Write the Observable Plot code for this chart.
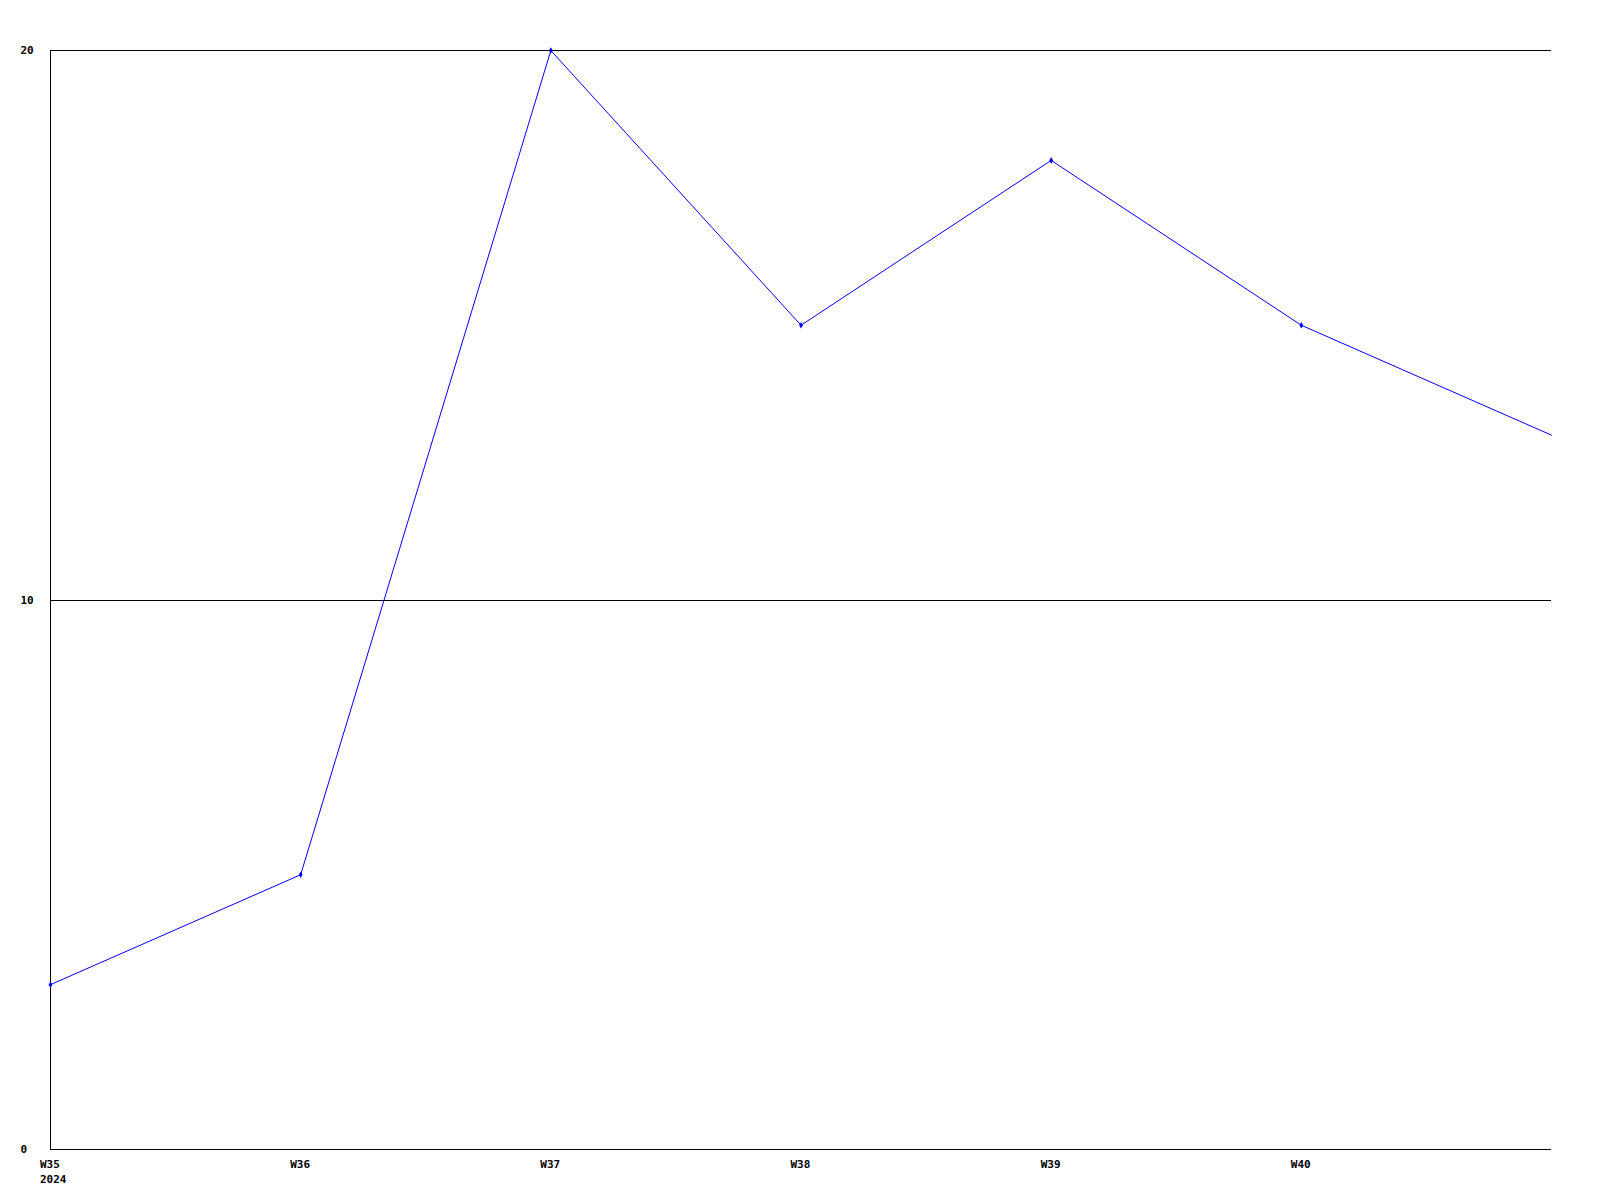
<!DOCTYPE html>
<html>
<head>
<meta charset="utf-8">
<script src="https://cdn.jsdelivr.net/npm/d3@7"></script>
<script src="https://cdn.jsdelivr.net/npm/@observablehq/plot@0.6"></script>
<style>
  html, body { margin: 0; padding: 0; background: #fff; }
  #chart svg { display: block; }
</style>
</head>
<body>
<div id="chart"></div>
<script>
// Data
const weeks = [35, 36, 37, 38, 39, 40, 41];
const values = [3, 5, 20, 15, 18, 15, 13];
const tickWeeks = [35, 36, 37, 38, 39, 40];
const yTicks = [0, 10, 20];
const year = "2024";

const data = weeks.map((w, i) => ({week: w, value: values[i]}));
const markerData = data.slice(0, -1);

const fmtX = d => d === weeks[0] ? `W${d}\n${year}` : `W${d}`;

const chart = Plot.plot({
  width: 1600,
  height: 1200,
  marginLeft: 50,
  marginRight: 49,
  marginTop: 50,
  marginBottom: 51,
  style: {fontFamily: "'DejaVu Sans Mono', monospace", fontSize: "11px", fontWeight: "bold", background: "#fff", color: "#000"},
  x: {domain: [weeks[0], weeks[weeks.length - 1]], type: "linear"},
  y: {domain: [0, 20]},
  marks: [
    Plot.gridY(yTicks.slice(1), {stroke: "#000", strokeOpacity: 1, strokeWidth: 1, shapeRendering: "crispEdges"}),
    Plot.ruleY([0], {stroke: "#000", strokeWidth: 1, shapeRendering: "crispEdges"}),
    Plot.ruleX([weeks[0]], {stroke: "#000", strokeWidth: 1, shapeRendering: "crispEdges"}),
    Plot.axisY(yTicks, {anchor: "left", tickSize: 0, tickPadding: 0, tickFormat: d => String(d), textAnchor: "start", dx: -30, label: null, fill: "#000", fontWeight: "bold"}),
    Plot.axisX(tickWeeks, {anchor: "bottom", tickSize: 0, tickPadding: 8, tickFormat: fmtX, textAnchor: "start", dx: -10.5, lineHeight: 1.36, label: null, fill: "#000", fontWeight: "bold"}),
    Plot.line(data, {x: "week", y: "value", stroke: "#0000ff", strokeWidth: 1}),
    Plot.dot(markerData, {x: "week", y: "value", r: 2, fill: "#0000ff", stroke: "none", symbol: "diamond"})
  ]
});
document.getElementById("chart").appendChild(chart);
</script>
</body>
</html>
